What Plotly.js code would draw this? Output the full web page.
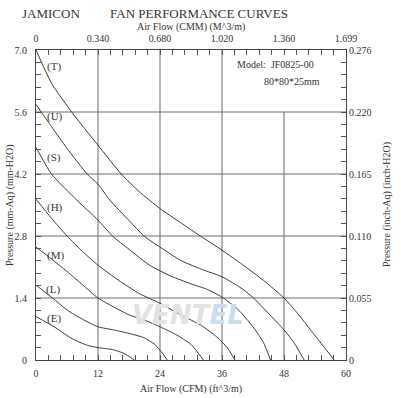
<!DOCTYPE html>
<html>
<head>
<meta charset="utf-8">
<script src="https://cdn.plot.ly/plotly-3.0.1.min.js"></script>
<style>html,body{margin:0;padding:0;background:#fff;}#chart{width:401px;height:398px;}</style>
</head>
<body>
<div id="chart"></div>
<script>
// Airflow (CFM) ticks and matching CMM labels
const cfmTicks = [0, 12, 24, 36, 48, 60];
const cfmLabels = ['0', '12', '24', '36', '48', '60'];
const cmmLabels = ['0', '0.340', '0.680', '1.020', '1.360', '1.699'];
// Pressure ticks (mm-H2O) and matching inch-H2O labels
const mmTicks = [0, 1.4, 2.8, 4.2, 5.6, 7.0];
const mmLabels = ['0', '1.4', '2.8', '4.2', '5.6', '7.0'];
const inchLabels = ['0', '0.055', '0.110', '0.165', '0.220', '0.276'];

// Curves: airflow (CFM) and static pressure (mm-H2O)
const curveNames = ['(T)', '(U)', '(S)', '(H)', '(M)', '(L)', '(E)'];
const T_q = [0, 3, 6.9, 12, 16.5, 20, 24, 28, 31.8, 36, 40, 44, 48, 51, 53, 55.5, 57.7];
const T_p = [7.0, 6.25, 5.6, 4.85, 4.2, 3.8, 3.42, 3.1, 2.8, 2.48, 2.15, 1.8, 1.4, 1.0, 0.7, 0.33, 0];
const U_q = [0, 3, 6, 9.9, 12, 14.3, 18, 20.9, 24, 28, 32, 36, 40, 42.1, 45, 48, 50, 51.9];
const U_p = [5.77, 5.27, 4.78, 4.2, 3.97, 3.61, 3.15, 2.8, 2.55, 2.25, 2.05, 1.88, 1.6, 1.4, 1.05, 0.68, 0.38, 0];
const S_q = [0, 3, 7.9, 12, 14.8, 18, 22, 26, 30, 33, 36, 39, 42, 44, 45.4];
const S_p = [4.8, 4.2, 3.61, 3.16, 2.8, 2.5, 2.14, 1.9, 1.72, 1.6, 1.42, 1.15, 0.75, 0.4, 0];
const H_q = [0, 3, 6, 9, 12, 16, 20, 24, 28, 32, 35, 37, 38.5];
const H_p = [3.63, 3.2, 2.8, 2.45, 2.14, 1.8, 1.5, 1.28, 1.02, 0.78, 0.52, 0.28, 0];
const M_q = [0, 3, 6, 9, 12, 15, 18, 21, 24, 27, 30, 32.4];
const M_p = [2.55, 2.28, 2.0, 1.7, 1.4, 1.2, 1.02, 0.9, 0.75, 0.58, 0.35, 0];
const L_q = [0, 3.2, 6, 9, 12, 15, 18, 21, 23, 24.5, 25.4];
const L_p = [1.69, 1.4, 1.13, 0.92, 0.75, 0.68, 0.6, 0.5, 0.35, 0.15, 0];
const E_q = [0, 3.5, 7, 10, 12, 15, 17, 18.3, 19.0];
const E_p = [0.98, 0.75, 0.48, 0.33, 0.28, 0.23, 0.15, 0.06, 0];

const curvesQ = [T_q, U_q, S_q, H_q, M_q, L_q, E_q];
const curvesP = [T_p, U_p, S_p, H_p, M_p, L_p, E_p];
// label anchor positions (data coords) for the curve names
const labelQ = [3.4, 3.6, 3.4, 3.6, 3.8, 3.2, 3.5];
const labelP = [6.62, 5.5, 4.58, 3.44, 2.36, 1.6, 0.93];

const modelText = ['Model:  JF0825-00', '80*80*25mm'];

const serif = 'Liberation Serif, Times New Roman, serif';
const txt = '#333';
const gridCol = '#8c8c8c';

const traces = curvesQ.map((q, i) => ({
  x: q, y: curvesP[i], type: 'scatter', mode: 'lines',
  line: {color: '#3a3a3a', width: 1, shape: 'spline', smoothing: 0.6},
  hoverinfo: 'skip', showlegend: false, xaxis: 'x', yaxis: 'y'
}));
// invisible traces so the secondary axes are drawn
traces.push({x: [0], y: [0], xaxis: 'x2', yaxis: 'y', mode: 'markers', marker: {opacity: 0}, showlegend: false, hoverinfo: 'skip'});
traces.push({x: [0], y: [0], xaxis: 'x', yaxis: 'y2', mode: 'markers', marker: {opacity: 0}, showlegend: false, hoverinfo: 'skip'});

const shapes = [];
// vertical grid lines (the 48 line stops at 5.6)
cfmTicks.slice(1, -1).forEach(v => {
  shapes.push({type: 'line', xref: 'x', yref: 'y', x0: v, x1: v, y0: 0,
    y1: v === 48 ? mmTicks[4] : mmTicks[5], line: {color: gridCol, width: 1.3}, layer: 'below'});
});
// horizontal grid lines
mmTicks.slice(1, -1).forEach(v => {
  shapes.push({type: 'line', xref: 'x', yref: 'y', x0: 0, x1: 60, y0: v, y1: v,
    line: {color: '#6e6e6e', width: 1.1}, layer: 'below'});
});

const W = 401, H = 398, ml = 36, mr = 55, mt = 50, mb = 38;
const pw = W - ml - mr, ph = H - mt - mb;
const px = x => (x - ml) / pw;
const py = y => (H - mb - y) / ph;

const annotations = [];
curveNames.forEach((n, i) => annotations.push({
  x: labelQ[i], y: labelP[i], xref: 'x', yref: 'y', xanchor: 'center', yanchor: 'middle',
  text: n, showarrow: false, font: {family: serif, size: 11, color: txt}
}));
function note(x, y, text, size, extra) {
  annotations.push(Object.assign({x: px(x), y: py(y), xref: 'paper', yref: 'paper', xanchor: 'center', yanchor: 'middle',
    text: text, showarrow: false, font: {family: serif, size: size, color: txt}}, extra || {}));
}
note(235, 65, modelText[0], 10, {xanchor: 'left'});
note(262, 81.5, modelText[1], 10, {xanchor: 'left'});
note(51, 14, 'JAMICON', 13);
note(198.5, 14, 'FAN PERFORMANCE CURVES', 13);
note(191, 27, 'Air Flow (CMM) (M^3/m)', 10);
note(191, 389, 'Air Flow (CFM) (ft^3/m)', 10);
note(10, 205, 'Pressure (mm-Aq) (mm-H2O)', 10, {textangle: -90});
note(387, 205, 'Pressure (inch-Aq) (inch-H2O)', 10, {textangle: -90});
note(188, 315, '<b><i><span style="color:#e2e2e2">VENT</span><span style="color:#cadcf0">EL</span></i></b>', 26,
  {font: {family: 'DejaVu Sans, Arial, sans-serif', size: 26}});

const axFont = {family: serif, size: 10, color: txt};
const baseX = {range: [0, 60], tickvals: cfmTicks, ticks: 'inside', ticklen: 0, showgrid: false, zeroline: false,
  showline: true, linecolor: '#444', linewidth: 1, tickfont: axFont, fixedrange: true,
  minor: {dtick: 2.4, ticks: 'inside', ticklen: 5, tickcolor: '#555', showgrid: false}};
const baseY = {range: [0, 7], tickvals: mmTicks, ticks: 'inside', ticklen: 0, showgrid: false, zeroline: false,
  showline: true, linecolor: '#444', linewidth: 1, tickfont: axFont, fixedrange: true,
  minor: {dtick: 0.28, ticks: 'inside', ticklen: 5, tickcolor: '#555', showgrid: false}};

const layout = {
  width: W, height: H,
  margin: {l: ml, r: mr, t: mt, b: mb, pad: 0},
  paper_bgcolor: '#fff', plot_bgcolor: '#fff',
  showlegend: false,
  xaxis: Object.assign({}, baseX, {ticktext: cfmLabels, side: 'bottom', ticklabelstandoff: 4}),
  xaxis2: Object.assign({}, baseX, {ticktext: cmmLabels, side: 'top', overlaying: 'x', anchor: 'y', ticklabelstandoff: 3}),
  yaxis: Object.assign({}, baseY, {ticktext: mmLabels, side: 'left', ticklabelstandoff: 6}),
  yaxis2: Object.assign({}, baseY, {ticktext: inchLabels, side: 'right', overlaying: 'y', anchor: 'x', ticklabelstandoff: 0}),
  shapes: shapes,
  annotations: annotations
};

Plotly.newPlot('chart', traces, layout, {displayModeBar: false, staticPlot: true});
</script>
</body>
</html>
